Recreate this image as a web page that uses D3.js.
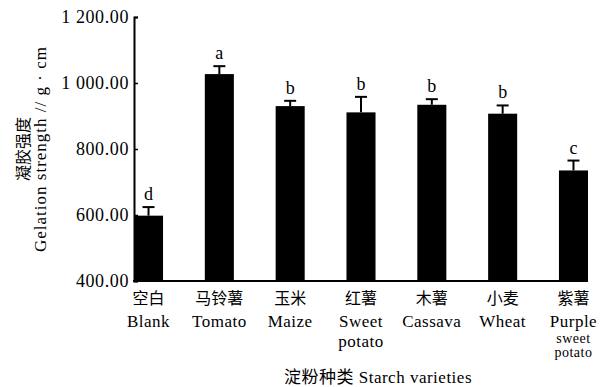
<!DOCTYPE html>
<html>
<head>
<meta charset="utf-8">
<script src="https://cdn.jsdelivr.net/npm/d3@7"></script>
<style>
  body { margin: 0; background: #fff; }
  svg text { font-family: "Liberation Serif", "Noto Sans CJK SC", serif; fill: #000; }
</style>
</head>
<body>
<div id="chart"></div>
<script>
// data
const categoriesCn = ['空白', '马铃薯', '玉米', '红薯', '木薯', '小麦', '紫薯'];
const categoriesEn = [['Blank'], ['Tomato'], ['Maize'], ['Sweet', 'potato'], ['Cassava'], ['Wheat'], ['Purple', 'sweet', 'potato']];
const means = [598, 1027, 930, 911, 934, 907, 735];
const errors = [26, 24, 16, 47, 17, 25, 30];
const letters = ['d', 'a', 'b', 'b', 'b', 'b', 'c'];
const yTicks = [400, 600, 800, 1000, 1200];

const width = 601, height = 387;
const margin = { top: 17, right: 13, bottom: 106, left: 134 };
const serif = '"Liberation Serif", "Noto Sans CJK SC", serif';

const svg = d3.select('#chart').append('svg')
    .attr('width', width)
    .attr('height', height);

const x = d3.scaleBand()
    .domain(d3.range(means.length))
    .range([margin.left, width - margin.right])
    .paddingInner(0.59)
    .paddingOuter(0);

const y = d3.scaleLinear()
    .domain([400, 1200])
    .range([height - margin.bottom, margin.top]);

const fmt = v => {
    const s = v.toFixed(2);
    return v >= 1000 ? s[0] + ' ' + s.slice(1) : s;
};

// bars
svg.selectAll('.bar')
    .data(means)
    .enter().append('rect')
    .attr('class', 'bar')
    .attr('x', (d, i) => x(i))
    .attr('y', d => y(d))
    .attr('width', x.bandwidth())
    .attr('height', d => y(400) - y(d))
    .attr('fill', '#000');

// error bars (upper only)
const err = svg.append('g').attr('stroke', '#000').attr('stroke-width', 2);
means.forEach((m, i) => {
    const cx = x(i) + x.bandwidth() / 2;
    err.append('line')
        .attr('x1', cx).attr('x2', cx)
        .attr('y1', y(m)).attr('y2', y(m + errors[i]));
    err.append('line')
        .attr('x1', cx - 6).attr('x2', cx + 6)
        .attr('y1', y(m + errors[i])).attr('y2', y(m + errors[i]));
});

// significance letters
svg.selectAll('.sig')
    .data(letters)
    .enter().append('text')
    .attr('class', 'sig')
    .attr('x', (d, i) => x(i) + x.bandwidth() / 2)
    .attr('y', (d, i) => y(means[i] + errors[i]) - 7)
    .attr('text-anchor', 'middle')
    .attr('font-size', 18)
    .text(d => d);

// y axis
const yAxis = svg.append('g')
    .attr('transform', `translate(${margin.left},0)`)
    .call(d3.axisLeft(y).tickValues(yTicks).tickSize(-4).tickPadding(5).tickFormat(fmt));
yAxis.attr('font-family', null);
yAxis.select('.domain').attr('stroke-width', 2);
yAxis.selectAll('.tick line').attr('stroke-width', 1.5);
yAxis.selectAll('.tick text')
    .style('font-family', serif)
    .style('font-size', '18px')
    .style('letter-spacing', '0.6px');

// x axis line
svg.append('line')
    .attr('x1', margin.left - 1).attr('x2', width - margin.right)
    .attr('y1', y(400)).attr('y2', y(400))
    .attr('stroke', '#000').attr('stroke-width', 2);

// category labels
const xl = svg.append('g');
categoriesCn.forEach((c, i) => {
    const cx = x(i) + x.bandwidth() / 2;
    xl.append('text')
        .attr('x', cx).attr('y', 304)
        .attr('text-anchor', 'middle')
        .attr('font-size', 16)
        .text(c);
    const lines = categoriesEn[i];
    lines.forEach((t, j) => {
        let yy = 327 + j * 20;
        let fs = 17;
        if (lines.length === 3) {
            yy = [327, 343, 357][j];
            fs = j === 0 ? 17 : 14;
        }
        xl.append('text')
            .attr('x', cx).attr('y', yy)
            .attr('text-anchor', 'middle')
            .attr('font-size', fs)
            .attr('letter-spacing', 0.5)
            .text(t);
    });
});

// x axis title
svg.append('text')
    .attr('x', 378).attr('y', 383)
    .attr('text-anchor', 'middle')
    .attr('font-size', 17)
    .attr('letter-spacing', 0.5)
    .text('淀粉种类 Starch varieties');

// y axis title
const yt = svg.append('g').attr('transform', 'translate(0,149) rotate(-90)');
yt.append('text')
    .attr('x', 0).attr('y', 29)
    .attr('text-anchor', 'middle')
    .attr('font-size', 16)
    .text('凝胶强度');
yt.append('text')
    .attr('x', 0).attr('y', 46)
    .attr('text-anchor', 'middle')
    .style('font-family', serif)
    .style('font-size', '17px')
    .style('letter-spacing', '1px')
    .text('Gelation strength // g · cm');
</script>
</body>
</html>
